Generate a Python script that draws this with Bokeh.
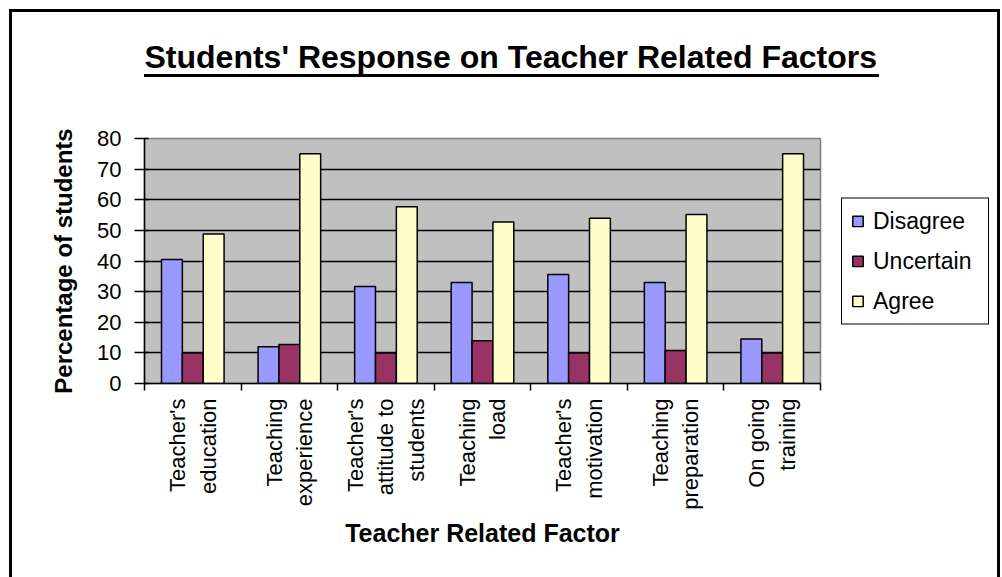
import math
from bokeh.plotting import figure
from bokeh.models import (Range1d, LinearAxis, FixedTicker, InlineStyleSheet,
                          Legend, LegendItem, ColumnDataSource, Title)
from bokeh.transform import dodge
from bokeh.embed import file_html
from bokeh.resources import INLINE

categories = ["Teacher's\neducation", "Teaching\nexperience", "Teacher's\nattitude to\nstudents",
              "Teaching\nload", "Teacher's\nmotivation", "Teaching\npreparation", "On going\ntraining"]
disagree = [40.5, 12, 31.7, 33, 35.6, 33, 14.5]
uncertain = [10, 12.7, 10, 14, 10, 10.8, 10]
agree = [48.8, 75, 57.7, 52.7, 54, 55.2, 75]
series = ["Disagree", "Uncertain", "Agree"]
y_ticks = [0, 10, 20, 30, 40, 50, 60, 70, 80]

n = len(categories)
centers = [i + 0.5 for i in range(n)]
boundaries = list(range(n + 1))
source = ColumnDataSource(dict(x=centers, cat=categories, disagree=disagree,
                               uncertain=uncertain, agree=agree))

FONT = "Liberation Sans"

p = figure(frame_width=676, frame_height=245, x_range=Range1d(0, n), y_range=Range1d(0, 80),
           output_backend="svg", toolbar_location=None, x_axis_location=None,
           min_border_left=144, min_border_right=182, min_border_top=138, min_border_bottom=194,
           background_fill_color="#C0C0C0", border_fill_color="white",
           outline_line_color="#808080", outline_line_width=1.5)

p.title = Title(text="Students' Response on Teacher Related Factors\n", align="left", offset=0,
                text_font=FONT, text_font_size="32px", text_font_style="bold", standoff=55,
                text_color="black")

# outer frame and title underline drawn with CSS
p.stylesheets = [InlineStyleSheet(css="""
:host { position: relative; }
:host::before { content: ""; position: absolute; left: 9px; top: 9px; width: 991px; height: 700px;
  border: 3px solid black; box-sizing: border-box; pointer-events: none; z-index: 10; }
:host::after { content: ""; position: absolute; left: 144px; top: 74px; width: 735px; height: 3px;
  background: black; pointer-events: none; z-index: 10; }
""")]

tick_axis = LinearAxis(ticker=FixedTicker(ticks=boundaries),
                       major_label_overrides={b: "" for b in boundaries},
                       major_label_text_font_size="0px", major_label_standoff=0,
                       major_tick_out=7, major_tick_in=0, minor_tick_line_color=None,
                       axis_line_color="black", axis_line_width=1.5,
                       major_tick_line_color="black", major_tick_line_width=1.5)
p.add_layout(tick_axis, "below")

label_axis = LinearAxis(ticker=FixedTicker(ticks=centers),
                        major_label_overrides={c: lab for c, lab in zip(centers, categories)},
                        major_tick_line_color=None, axis_line_color=None,
                        minor_tick_line_color=None,
                        major_label_orientation=math.pi / 2,
                        major_label_text_font=FONT, major_label_text_font_size="22px",
                        major_label_text_color="black", major_label_text_line_height=1.22,
                        major_label_text_align="center",
                        major_label_standoff=2,
                        axis_label="Teacher Related Factor", axis_label_text_font=FONT,
                        axis_label_text_font_size="25px", axis_label_text_font_style="bold",
                        axis_label_text_color="black", axis_label_standoff=6)
p.add_layout(label_axis, "below")

p.yaxis.ticker = FixedTicker(ticks=y_ticks)
p.yaxis.major_label_text_font = FONT
p.yaxis.major_label_text_font_size = "22px"
p.yaxis.major_label_text_color = "black"
p.yaxis.major_tick_out = 10
p.yaxis.major_tick_in = 4
p.yaxis.major_tick_line_color = "black"
p.yaxis.major_tick_line_width = 1.5
p.yaxis.minor_tick_line_color = None
p.yaxis.axis_line_color = "black"
p.yaxis.axis_line_width = 1.5
p.yaxis.major_label_standoff = 13
p.yaxis.axis_label = "Percentage of students"
p.yaxis.axis_label_text_font = FONT
p.yaxis.axis_label_text_font_size = "24px"
p.yaxis.axis_label_text_font_style = "bold"
p.yaxis.axis_label_text_color = "black"
p.yaxis.axis_label_standoff = 17

p.ygrid.grid_line_color = "black"
p.ygrid.grid_line_width = 1.3
p.ygrid.ticker = FixedTicker(ticks=y_ticks)
p.xgrid.visible = False

w = 0.216
r1 = p.vbar(x=dodge("x", -w), top="disagree", width=w, source=source,
            fill_color="#9999FF", line_color="black", line_width=1.5)
r2 = p.vbar(x=dodge("x", 0), top="uncertain", width=w, source=source,
            fill_color="#993366", line_color="black", line_width=1.5)
r3 = p.vbar(x=dodge("x", w), top="agree", width=w, source=source,
            fill_color="#FFFFCC", line_color="black", line_width=1.5)

legend = Legend(items=[LegendItem(label=series[0], renderers=[r1]),
                       LegendItem(label=series[1], renderers=[r2]),
                       LegendItem(label=series[2], renderers=[r3])],
                location="center_left", label_text_font=FONT, label_text_font_size="23px",
                label_text_color="black", glyph_width=13, glyph_height=13, label_height=20,
                spacing=13, padding=9, label_standoff=9, label_width=106,
                border_line_color="black", border_line_alpha=1.0, border_line_width=1.8,
                background_fill_alpha=1, margin=21)
p.add_layout(legend, "right")

open("out.html", "w").write(file_html(p, INLINE))
